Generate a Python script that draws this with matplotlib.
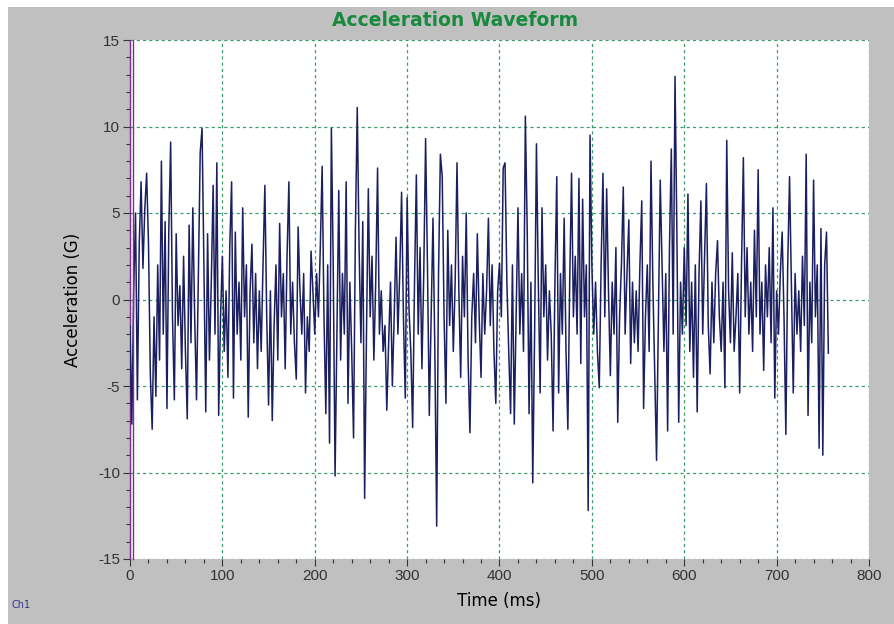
import numpy as np
import matplotlib
matplotlib.use("Agg")
import matplotlib.pyplot as plt
from matplotlib.patches import Rectangle
from matplotlib.ticker import MultipleLocator

plt.rcParams["axes.unicode_minus"] = False

# acceleration samples (G), one every 2 ms
accel = [
    -1.5, -7.2, 0.5, 5.0, -5.8, 3.2, 6.8, 1.8, 5.2, 7.3,
    3.3, -4.3, -7.5, -1.0, -5.6, 2.0, -3.5, 8.0, -2.0, 4.5,
    -6.3, 4.0, 9.1, -1.0, -5.8, 3.8, -1.5, 0.8, -4.0, 2.5,
    -3.0, -6.9, 4.3, -2.5, 5.3, -1.0, -5.8, 1.5, 8.5, 9.9,
    2.0, -6.5, 3.8, -3.5, 1.0, 6.6, -2.0, 7.9, -6.7, -1.0,
    2.5, -3.0, 0.5, -4.5, 3.0, 6.8, -5.7, 3.9, -2.0, 1.0,
    -3.5, 5.3, -1.0, 2.0, -6.8, 0.5, 3.2, -2.5, 1.5, -4.0,
    0.5, -3.0, 2.0, 6.6, -1.0, -6.1, 0.5, -7.0, -1.5, 2.0,
    -3.5, 4.4, -1.0, 1.5, -4.0, 2.5, 6.8, -2.0, 1.0, -2.5,
    -4.6, 4.2, 0.5, -2.0, 1.5, -5.4, -1.0, -3.0, 2.8, 0.5,
    -2.0, 1.5, -1.0, 3.0, 7.7, -1.0, -6.6, 2.0, -8.3, 9.9,
    2.0, -10.2, -2.0, 6.3, -3.5, 1.5, -2.0, 6.8, -6.0, 1.0,
    -3.0, -8.0, 4.0, 11.1, 3.0, -2.5, 4.5, -11.5, -2.0, 6.4,
    -1.0, 2.5, -3.5, 1.0, 7.6, -2.0, 0.5, -3.0, -1.5, -6.4,
    -2.5, 1.0, -5.0, -1.0, 3.6, -2.0, 1.5, 6.2, -1.0, -5.7,
    5.9, -0.5, -3.0, -7.4, 1.0, 7.2, -2.0, 3.0, -4.0, 1.5,
    9.3, 2.0, -6.7, -1.0, 4.7, -3.0, -13.1, 1.5, 8.4, 7.1,
    -1.0, -6.0, 4.0, -1.5, 2.0, -3.0, 1.0, 7.9, 0.5, -4.5,
    2.5, -1.0, 5.0, -3.5, -7.7, -1.0, 1.5, -2.5, 3.8, -1.0,
    -4.5, 1.5, -2.0, 0.5, 4.7, -1.5, 2.0, -3.0, -6.0, 0.5,
    2.1, -1.0, 7.6, 7.9, 1.0, -3.0, -6.6, 2.0, -7.2, -1.0,
    5.3, -2.0, 1.5, -3.0, 10.6, 4.0, -6.6, 1.0, -10.6, -2.0,
    9.0, 1.0, -5.4, 5.3, -1.0, 2.0, -3.5, 0.5, -2.0, -7.6,
    1.0, 7.1, -5.4, 1.5, -2.0, 4.7, -3.0, -7.5, 1.0, 7.3,
    -1.0, 2.5, -2.0, 7.0, -3.7, 5.8, -1.0, 2.0, -12.2, 9.5,
    2.0, -2.0, 1.0, -3.0, -5.1, 2.0, 7.3, -1.0, 6.4, 0.5,
    -4.4, 1.0, -2.0, 3.0, -7.1, -1.0, 2.0, 6.5, -2.0, 1.5,
    4.6, -3.7, 1.0, -2.5, 0.5, -3.0, 2.0, 5.7, -6.3, -1.0,
    2.0, -3.0, 8.0, 1.0, -4.0, -9.3, -1.0, 6.9, 2.0, -3.0,
    1.5, -7.6, 3.0, 8.7, -2.0, 12.9, 4.0, -7.1, 1.0, -2.0,
    3.0, -1.5, 6.1, -3.0, 1.0, -4.5, 2.0, -6.5, 1.5, 5.7,
    -2.0, 2.5, 6.7, -1.5, -4.3, 1.0, -2.5, 1.5, 3.4, -1.0,
    -3.0, 1.0, -5.1, 9.2, 0.5, -2.5, 2.7, -3.0, -1.0, 1.5,
    -5.4, 2.0, 8.2, -1.0, 3.0, -2.0, 1.0, -3.0, 4.0, -1.0,
    7.5, -2.0, 1.0, -4.1, 2.0, -1.0, 3.0, -2.5, 5.3, -5.7,
    0.5, -2.0, 1.5, 3.9, -1.0, -7.8, 2.0, 7.1, 1.0, -5.4,
    1.5, -2.0, 0.5, -3.0, 2.5, -1.5, 8.4, -6.7, 1.0, -2.5,
    6.9, -1.0, 2.0, -8.6, 4.1, -9.0, 2.0, 3.9, -3.1,
]
time_ms = np.arange(len(accel)) * 2.0

x_ticks = [0, 100, 200, 300, 400, 500, 600, 700, 800]
y_ticks = [-15, -10, -5, 0, 5, 10, 15]

fig = plt.figure(figsize=(8.95, 6.24), dpi=100, facecolor="white")
# grey panel behind everything (thin white margin at top and left)
fig.patches.append(Rectangle((8 / 895, 0), 1, 1 - 7 / 624, transform=fig.transFigure,
                             facecolor="#c0c0c0", edgecolor="none", zorder=-10))

ax = fig.add_axes([130 / 895, 1 - 559 / 624, 739 / 895, 519 / 624])
ax.set_facecolor("white")

ax.plot(time_ms, accel, color="#1b1f60", linewidth=1.1, zorder=3)

ax.set_xlim(0, 800)
ax.set_ylim(-15, 15)
ax.set_xticks(x_ticks)
ax.set_yticks(y_ticks)
ax.xaxis.set_minor_locator(MultipleLocator(20))
ax.yaxis.set_minor_locator(MultipleLocator(1))

ax.grid(True, which="major", color="#1a8c50", linestyle=(0, (2.5, 2.5)), linewidth=0.9, alpha=0.85)
ax.set_axisbelow(True)

for s in ["top", "right", "bottom"]:
    ax.spines[s].set_visible(False)
ax.spines["left"].set_color("#7e2d8e")
ax.spines["left"].set_linewidth(1.0)
# second purple line of the double left axis
ax.plot([0.0036, 0.0036], [0, 1], transform=ax.transAxes, color="#7e2d8e",
        linewidth=1.0, clip_on=False, zorder=4)

ax.tick_params(axis="both", which="major", direction="out", length=5, width=0.8,
               color="#333333", labelcolor="#333333", labelsize=11)
ax.tick_params(axis="both", which="minor", direction="out", length=3, width=0.8,
               color="#333333")
for lab in ax.get_xticklabels() + ax.get_yticklabels():
    lab.set_family("Liberation Sans")
ax.tick_params(axis="x", pad=2)
ax.tick_params(axis="y", pad=2)

ax.set_xlabel("Time (ms)", fontsize=12, color="black", labelpad=7)
ax.set_ylabel("Acceleration (G)", fontsize=12, color="black", labelpad=12)

fig.text(455 / 895, 1 - 20 / 624, "Acceleration Waveform", ha="center", va="center",
         fontsize=13.5, fontweight="bold", color="#178a3e")
fig.text(12 / 895, 1 - 605 / 624, "Ch1", ha="left", va="center", fontsize=7,
         color="#33338f")

fig.savefig("out.png", dpi=100, facecolor=fig.get_facecolor())
